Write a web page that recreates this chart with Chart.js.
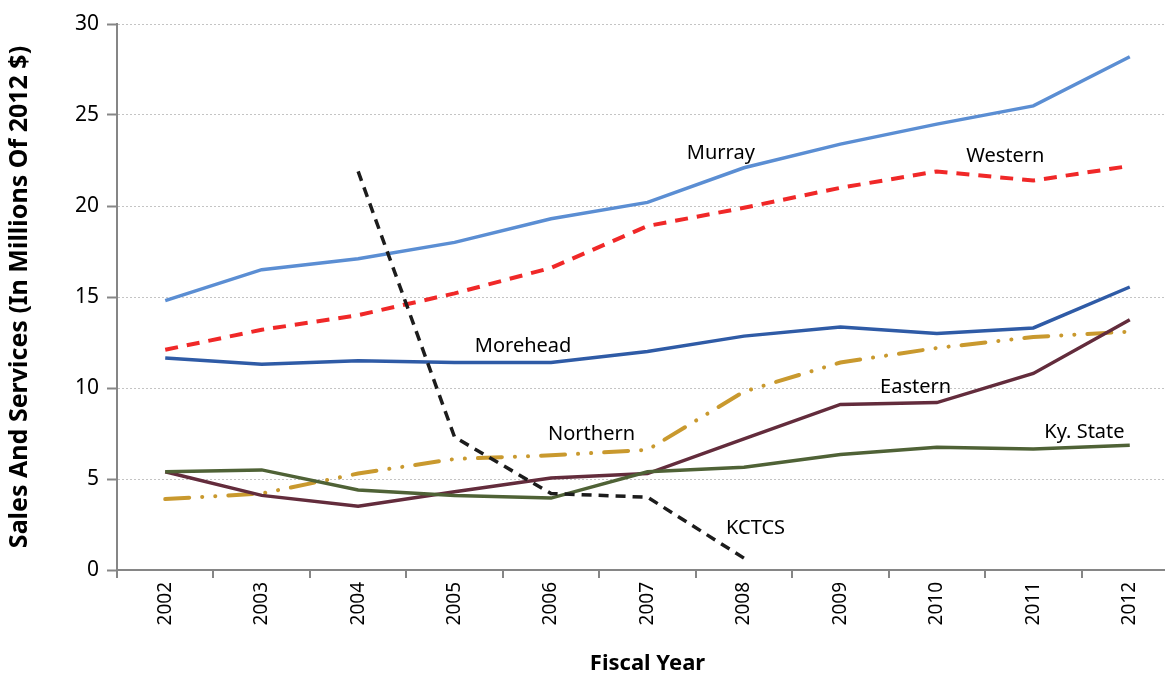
<!DOCTYPE html>
<html>
<head>
<meta charset="utf-8">
<script src="https://cdn.jsdelivr.net/npm/chart.js@4.4.0/dist/chart.umd.min.js"></script>
<style>
  html, body { margin: 0; padding: 0; background: #fff; overflow: hidden; }
  #wrap { width: 1180px; height: 677px; }
</style>
</head>
<body>
<div id="wrap"><canvas id="grafico" width="1180" height="677"></canvas></div>
<script>
// datos
var years = ['2002','2003','2004','2005','2006','2007','2008','2009','2010','2011','2012'];

var murray   = [14.8, 16.5, 17.1, 18.0, 19.3, 20.2, 22.1, 23.4, 24.5, 25.5, 28.2];
var western  = [12.1, 13.2, 14.0, 15.2, 16.6, 18.9, 19.9, 21.0, 21.9, 21.4, 22.2];
var morehead = [11.65, 11.3, 11.5, 11.4, 11.4, 12.0, 12.85, 13.35, 13.0, 13.3, 15.55];
var northern = [3.9, 4.2, 5.3, 6.1, 6.3, 6.6, 9.8, 11.4, 12.2, 12.8, 13.1];
var eastern  = [5.4, 4.1, 3.5, 4.3, 5.05, 5.3, 7.2, 9.1, 9.2, 10.8, 13.75];
var kyState  = [5.4, 5.5, 4.4, 4.1, 3.95, 5.4, 5.65, 6.35, 6.75, 6.65, 6.85];
var kctcs    = [null, null, 21.9, 7.3, 4.2, 4.0, 0.65, null, null, null, null];

// etiquetas: [texto, posicion en x (indice), valor en y]
var etiquetas = [
  ['Murray', 5.76, 22.9],
  ['Western', 8.71, 22.75],
  ['Morehead', 3.71, 12.3],
  ['Northern', 4.42, 7.47],
  ['Eastern', 7.78, 10.05],
  ['Ky. State', 9.53, 7.58],
  ['KCTCS', 6.12, 2.3]
];

var fuente = "'Noto Sans', 'Open Sans', sans-serif";

var etiquetasPlugin = {
  id: 'etiquetas',
  afterDatasetsDraw: function(chart){
    var ctx = chart.ctx;
    var xs = chart.scales.x, ys = chart.scales.y;
    ctx.save();
    ctx.fillStyle = '#000';
    ctx.font = '20px ' + fuente;
    ctx.textAlign = 'center';
    ctx.textBaseline = 'middle';
    for (var i in etiquetas){
      var e = etiquetas[i];
      ctx.fillText(e[0], xs.getPixelForValue(e[1]), ys.getPixelForValue(e[2]));
    }
    ctx.restore();
  }
};

function serie(label, data, color, width, dash, cap){
  return {
    label: label,
    data: data,
    borderColor: color,
    backgroundColor: color,
    borderWidth: width,
    borderDash: dash || [],
    borderCapStyle: cap || 'butt',
    pointRadius: 0,
    pointHoverRadius: 0,
    tension: 0,
    spanGaps: false,
    fill: false
  };
}

var datos = {
  labels: years,
  datasets: [
    serie('KCTCS', kctcs, '#1c1c1c', 3.5, [10, 7]),
    serie('Ky. State', kyState, '#4F6236', 3.5),
    serie('Eastern', eastern, '#632C3C', 3.5),
    serie('Northern', northern, '#C9992E', 4, [24, 13, 0.1, 13, 0.1, 13], 'round'),
    serie('Morehead', morehead, '#2F5BA6', 3.5),
    serie('Western', western, '#F02828', 4, [13, 9]),
    serie('Murray', murray, '#5B8ED3', 3.5)
  ]
};

var grafico = new Chart(document.getElementById('grafico'), {
  type: 'line',
  data: datos,
  plugins: [etiquetasPlugin],
  options: {
    responsive: false,
    animation: false,
    events: [],
    layout: { padding: { top: 24, right: 2, left: 0, bottom: 0 } },
    plugins: {
      legend: { display: false },
      tooltip: { enabled: false }
    },
    scales: {
      x: {
        offset: true,
        grid: {
          offset: true,
          drawOnChartArea: false,
          color: '#868686',
          lineWidth: 2,
          tickLength: 8
        },
        border: { color: '#868686', width: 2 },
        ticks: {
          color: '#000',
          font: { size: 19, family: fuente },
          minRotation: 90,
          maxRotation: 90,
          padding: 4
        },
        title: {
          display: true,
          text: 'Fiscal Year',
          color: '#000',
          font: { size: 22, weight: 'bold', family: fuente },
          padding: { top: 6, bottom: 0 }
        },
        afterFit: function(s){ s.height = 107; }
      },
      y: {
        min: 0,
        max: 30,
        ticks: {
          stepSize: 5,
          color: '#000',
          font: { size: 21, family: fuente },
          padding: 8
        },
        grid: {
          color: '#c4c4c4',
          lineWidth: 1,
          tickColor: '#868686',
          tickLength: 10,
          tickWidth: 2,
          tickBorderDash: [],
          drawTicks: true
        },
        border: { color: '#868686', width: 2, dash: [2, 2] },
        title: {
          display: true,
          text: 'Sales And Services (In Millions Of 2012 $)',
          color: '#000',
          font: { size: 25, weight: 'bold', family: fuente },
          padding: { top: 5, bottom: 4 }
        },
        afterFit: function(s){ s.width = 117; }
      }
    }
  }
});
</script>
</body>
</html>
